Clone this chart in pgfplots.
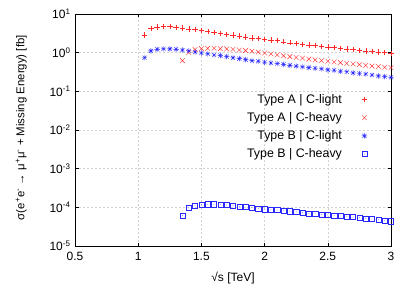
\documentclass[border=0pt]{standalone}
\usepackage{fontspec}
\setmainfont{Liberation Sans}
\usepackage{pgfplots}
\pgfplotsset{compat=1.18}

\pgfdeclareplotmark{starx}{%
  \pgfpathmoveto{\pgfqpoint{-\pgfplotmarksize}{0pt}}\pgfpathlineto{\pgfqpoint{\pgfplotmarksize}{0pt}}%
  \pgfpathmoveto{\pgfqpoint{0pt}{-\pgfplotmarksize}}\pgfpathlineto{\pgfqpoint{0pt}{\pgfplotmarksize}}%
  \pgfpathmoveto{\pgfqpoint{-.75\pgfplotmarksize}{-.75\pgfplotmarksize}}\pgfpathlineto{\pgfqpoint{.75\pgfplotmarksize}{.75\pgfplotmarksize}}%
  \pgfpathmoveto{\pgfqpoint{-.75\pgfplotmarksize}{.75\pgfplotmarksize}}\pgfpathlineto{\pgfqpoint{.75\pgfplotmarksize}{-.75\pgfplotmarksize}}%
  \pgfusepathqstroke}
\pgfdeclareplotmark{sqdot}{%
  \pgfpathrectangle{\pgfqpoint{-\pgfplotmarksize}{-\pgfplotmarksize}}{\pgfqpoint{2\pgfplotmarksize}{2\pgfplotmarksize}}%
  \pgfusepathqstroke
  \pgfpathcircle{\pgfpointorigin}{0.35pt}\pgfusepathqfill}

\definecolor{gred}{RGB}{255,40,40}
\definecolor{gblue}{RGB}{40,40,255}

\begin{document}
\begin{tikzpicture}
\useasboundingbox (0,0) rectangle (409pt,286pt);
\begin{axis}[
  at={(75pt,40pt)}, anchor=south west,
  scale only axis, width=316pt, height=232pt,
  xmin=0.5, xmax=3, ymode=log, ymin=1e-5, ymax=10,
  xtick={0.5,1,1.5,2,2.5,3}, xticklabels={0.5,1,1.5,2,2.5,3},
  ytick={1e-5,1e-4,1e-3,1e-2,1e-1,1,10},
  yticklabels={10\textsuperscript{-5},10\textsuperscript{-4},10\textsuperscript{-3},10\textsuperscript{-2},10\textsuperscript{-1},10\textsuperscript{0},10\textsuperscript{1}},
  minor tick num=0,
  yminorticks=false,
  tick align=inside, major tick length=3.5pt,
  tick style={black, line width=0.5pt},
  grid=major,
  major grid style={gray!35, line width=0.4pt, dash pattern=on 2pt off 2pt},
  axis line style={black, line width=0.8pt},
  font=\fontsize{12}{14.4}\selectfont,
  tick label style={font=\fontsize{12}{14.4}\selectfont},
  xticklabel style={yshift=-2.5pt},
  yticklabel style={xshift=-1pt},
  xlabel={√s [TeV]},
  ylabel={σ(e\textsuperscript{+}e\textsuperscript{-} → μ\textsuperscript{+}μ\textsuperscript{-} + Missing Energy) [fb]},
  xlabel style={at={(axis description cs:0.5,-0.14)}, anchor=center},
  ylabel style={at={(axis description cs:-0.17,0.51)}, anchor=center, font=\fontsize{11.4}{13.7}\selectfont},
  clip=false,
  legend cell align=right,
  legend plot pos=right,
  legend style={draw=none, fill=none, at={(axis description cs:0.935,0.672)}, anchor=north east,
    font=\fontsize{12.4}{14.9}\selectfont, row sep=3.7pt},
  legend image code/.code={\path[draw=none,fill=none] (0cm,-0.1cm) rectangle (0.82cm,0.1cm); \draw[#1] plot coordinates {(0.72cm,0cm)};},
]
\addplot[only marks, gred, mark=+, mark size=2.7pt, line width=0.4pt] coordinates {
(1.05,2.87)(1.10,4.17)(1.15,4.6)(1.20,4.7)(1.25,4.7)(1.30,4.5)(1.35,4.35)(1.40,4.1)(1.45,3.93)(1.50,3.79)
(1.55,3.57)(1.60,3.37)(1.65,3.17)(1.70,2.99)(1.75,2.85)(1.80,2.70)(1.85,2.55)(1.90,2.40)(1.95,2.30)(2.00,2.22)
(2.05,2.13)(2.10,2.04)(2.15,1.92)(2.20,1.81)(2.25,1.71)(2.30,1.65)(2.35,1.58)(2.40,1.52)(2.45,1.46)(2.50,1.40)
(2.55,1.35)(2.60,1.30)(2.65,1.25)(2.70,1.20)(2.75,1.15)(2.80,1.11)(2.85,1.06)(2.90,1.04)(2.95,1.00)(3.00,0.96)};
\addlegendentry{Type A | C-light}
\addplot[only marks, gred, mark=x, mark size=3.3pt, line width=0.4pt] coordinates {
(1.35,0.62)(1.40,1.02)(1.45,1.20)(1.50,1.27)(1.55,1.30)(1.60,1.30)(1.65,1.27)(1.70,1.25)(1.75,1.22)(1.80,1.17)
(1.85,1.13)(1.90,1.09)(1.95,1.04)(2.00,0.98)(2.05,0.93)(2.10,0.88)(2.15,0.83)(2.20,0.79)(2.25,0.75)(2.30,0.72)
(2.35,0.68)(2.40,0.65)(2.45,0.62)(2.50,0.60)(2.55,0.575)(2.60,0.55)(2.65,0.53)(2.70,0.51)(2.75,0.49)(2.80,0.47)
(2.85,0.45)(2.90,0.44)(2.95,0.42)(3.00,0.41)};
\addlegendentry{Type A | C-heavy}
\addplot[only marks, gblue, mark=starx, mark size=2.7pt, line width=0.4pt] coordinates {
(1.05,0.74)(1.10,1.11)(1.15,1.22)(1.20,1.25)(1.25,1.25)(1.30,1.22)(1.35,1.17)(1.40,1.11)(1.45,1.04)(1.50,0.98)
(1.55,0.93)(1.60,0.87)(1.65,0.84)(1.70,0.79)(1.75,0.74)(1.80,0.70)(1.85,0.66)(1.90,0.62)(1.95,0.60)(2.00,0.565)
(2.05,0.54)(2.10,0.52)(2.15,0.50)(2.20,0.47)(2.25,0.45)(2.30,0.43)(2.35,0.41)(2.40,0.395)(2.45,0.38)(2.50,0.36)
(2.55,0.35)(2.60,0.33)(2.65,0.32)(2.70,0.30)(2.75,0.29)(2.80,0.28)(2.85,0.265)(2.90,0.25)(2.95,0.24)(3.00,0.23)};
\addlegendentry{Type B | C-light}
\addplot[only marks, gblue, mark=sqdot, mark size=2.6pt, line width=0.4pt] coordinates {
(1.35,6.1e-5)(1.40,9.6e-5)(1.45,1.10e-4)(1.50,1.17e-4)(1.55,1.20e-4)(1.60,1.20e-4)(1.65,1.17e-4)(1.70,1.15e-4)
(1.75,1.10e-4)(1.80,1.06e-4)(1.85,1.02e-4)(1.90,9.8e-5)(1.95,9.4e-5)(2.00,9.0e-5)(2.05,8.7e-5)(2.10,8.5e-5)
(2.15,8.2e-5)(2.20,7.9e-5)(2.25,7.6e-5)(2.30,7.25e-5)(2.35,7.0e-5)(2.40,6.8e-5)(2.45,6.6e-5)(2.50,6.3e-5)
(2.55,6.2e-5)(2.60,5.96e-5)(2.65,5.85e-5)(2.70,5.6e-5)(2.75,5.4e-5)(2.80,5.2e-5)(2.85,5.0e-5)(2.90,4.8e-5)
(2.95,4.6e-5)(3.00,4.4e-5)};
\addlegendentry{Type B | C-heavy}
\end{axis}
\end{tikzpicture}
\end{document}
